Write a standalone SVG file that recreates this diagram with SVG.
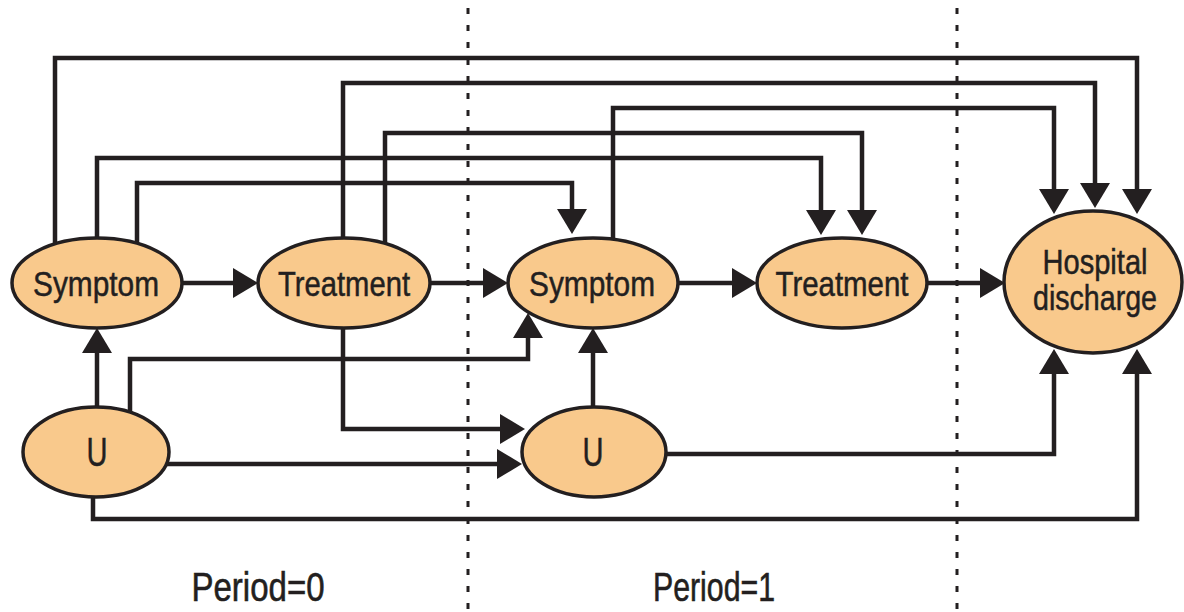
<svg xmlns="http://www.w3.org/2000/svg" width="1184" height="612" viewBox="0 0 1184 612">
  <style>
    .node ellipse { fill: #F9C98C; stroke: #231F20; stroke-width: 3.5; }
    .node text { font-family: "Liberation Sans", Arial, sans-serif; font-size: 35px; fill: #231F20; stroke: #231F20; stroke-width: 0.5; text-anchor: middle; }
    .node text.u { font-size: 40px; }
    .conn { fill: none; stroke: #231F20; stroke-width: 4.5; marker-end: url(#arrow); }
    .divider { stroke: #231F20; stroke-width: 3; stroke-dasharray: 6 11; }
    .period { font-family: "Liberation Sans", Arial, sans-serif; font-size: 40px; fill: #231F20; stroke: #231F20; stroke-width: 0.6; text-anchor: middle; }
  </style>
  <defs>
    <marker id="arrow" markerUnits="userSpaceOnUse" markerWidth="26" markerHeight="32" viewBox="0 -16 26 32" refX="17" refY="0" orient="auto">
      <path d="M0,-15 L25,0 L0,15 Z" fill="#231F20"/>
    </marker>
  </defs>
  <rect width="1184" height="612" fill="#ffffff"/>

  <g id="dividers">
    <line class="divider" x1="468" y1="8" x2="468" y2="612"/>
    <line class="divider" x1="957" y1="8" x2="957" y2="612"/>
  </g>

  <g id="connectors">
    <path class="conn" d="M182,283 H250"/>
    <path class="conn" d="M430,283 H500"/>
    <path class="conn" d="M678,283 H749"/>
    <path class="conn" d="M927,283 H997"/>
    <path class="conn" d="M55,250 V58 H1137 V206"/>
    <path class="conn" d="M343,250 V83 H1095 V200"/>
    <path class="conn" d="M613,250 V108 H1054 V206"/>
    <path class="conn" d="M385,250 V133 H862 V227"/>
    <path class="conn" d="M97,250 V158 H821 V227"/>
    <path class="conn" d="M137,250 V183 H572 V226"/>
    <path class="conn" d="M97,420 V336"/>
    <path class="conn" d="M130,420 V359 H528 V321"/>
    <path class="conn" d="M343,300 V429 H517"/>
    <path class="conn" d="M160,464 H514"/>
    <path class="conn" d="M593,420 V336"/>
    <path class="conn" d="M650,454 H1054 V357"/>
    <path class="conn" d="M93,480 V519 H1137 V357"/>
  </g>

  <g id="symptom0" class="node">
    <ellipse cx="97" cy="283" rx="85" ry="45"/>
    <text x="96" y="296" textLength="126" lengthAdjust="spacingAndGlyphs">Symptom</text>
  </g>
  <g id="treatment0" class="node">
    <ellipse cx="344" cy="283" rx="86" ry="45"/>
    <text x="344" y="296" textLength="132" lengthAdjust="spacingAndGlyphs">Treatment</text>
  </g>
  <g id="symptom1" class="node">
    <ellipse cx="593" cy="283" rx="85" ry="45"/>
    <text x="592" y="296" textLength="126" lengthAdjust="spacingAndGlyphs">Symptom</text>
  </g>
  <g id="treatment1" class="node">
    <ellipse cx="842" cy="283" rx="85" ry="45"/>
    <text x="842" y="296" textLength="133" lengthAdjust="spacingAndGlyphs">Treatment</text>
  </g>
  <g id="hospital" class="node">
    <ellipse cx="1093" cy="282" rx="89" ry="71"/>
    <text x="1095" y="274" textLength="105" lengthAdjust="spacingAndGlyphs">Hospital</text>
    <text x="1095" y="310" textLength="124" lengthAdjust="spacingAndGlyphs">discharge</text>
  </g>
  <g id="u0" class="node">
    <ellipse cx="96" cy="452" rx="73" ry="45"/>
    <text class="u" x="97" y="466" textLength="21" lengthAdjust="spacingAndGlyphs">U</text>
  </g>
  <g id="u1" class="node">
    <ellipse cx="594" cy="452" rx="72" ry="45"/>
    <text class="u" x="593" y="466" textLength="21" lengthAdjust="spacingAndGlyphs">U</text>
  </g>

  <g id="labels">
    <text class="period" x="258" y="601" textLength="133" lengthAdjust="spacingAndGlyphs">Period=0</text>
    <text class="period" x="714" y="601" textLength="122" lengthAdjust="spacingAndGlyphs">Period=1</text>
  </g>
</svg>
